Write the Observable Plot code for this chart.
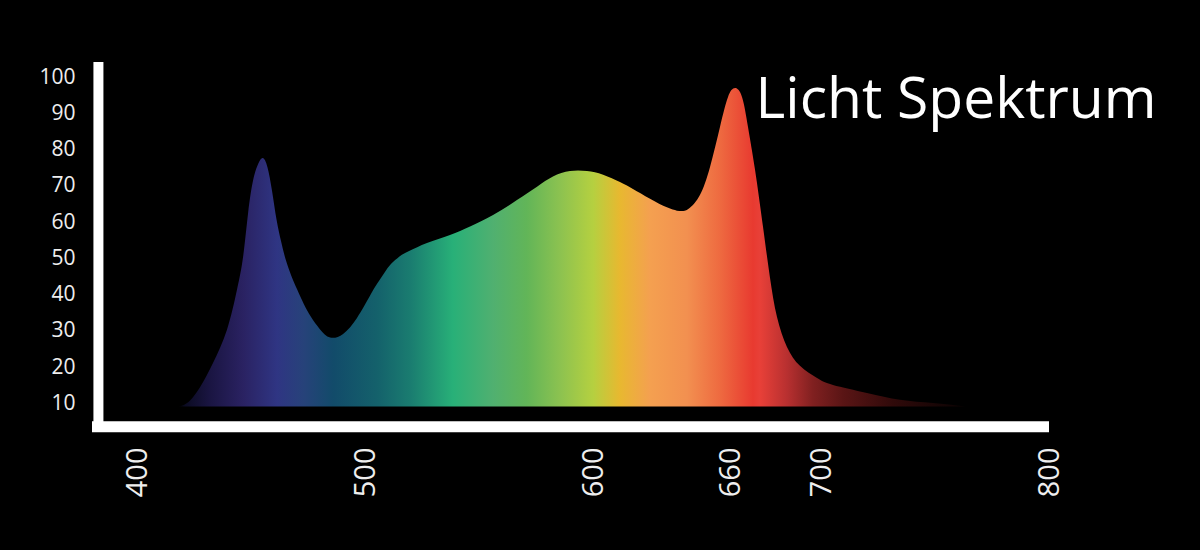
<!DOCTYPE html>
<html>
<head>
<meta charset="utf-8">
<script src="https://cdn.jsdelivr.net/npm/d3@7"></script>
<script src="https://cdn.jsdelivr.net/npm/@observablehq/plot@0.6"></script>
<style>
  html, body { margin: 0; padding: 0; background: #000; }
  #chart { width: 1200px; height: 550px; overflow: hidden; }
</style>
</head>
<body>
<div id="chart"></div>
<script>
// ---- Data ----
const title = "Licht Spektrum";
const wavelength = [417, 421.7, 427.4, 433.1, 439.2, 443.6, 446.3, 448.5, 450.7, 453, 455, 457, 459, 461, 463, 465, 467.5, 470, 473, 476, 480, 484.5, 490.2, 496.3, 502, 505.1, 509, 512.1, 516, 519.6, 527, 537.1, 545.9, 556, 566.5, 575.3, 582.3, 589.8, 597.2, 604.3, 611.7, 617.4, 624.9, 632.3, 636.7, 639.5, 642.4, 646.8, 651.2, 655.6, 659.1, 662.2, 665.3, 667.9, 671, 674.5, 677.5, 680.6, 685, 690.7, 698.2, 705.2, 720.1, 734.6, 749.1, 763.1];
const intensity  = [9, 9.9, 14.3, 21, 30.1, 41.1, 50.2, 62.3, 71.4, 76, 77.5, 75, 68.5, 60.5, 54.5, 49.5, 45, 41.3, 37.2, 33.8, 30.3, 28.0, 29.0, 33.4, 39.5, 42.8, 46.5, 48.8, 50.8, 52.0, 54.1, 56.3, 58.6, 61.8, 65.9, 69.6, 72.4, 73.9, 73.9, 72.9, 70.9, 69.0, 66.3, 63.9, 63.0, 62.9, 63.8, 67.3, 75, 86.1, 94.3, 96.8, 94.3, 86.1, 74.2, 58.5, 44.7, 33.7, 25.4, 20.2, 16.8, 14.9, 12.7, 10.8, 9.9, 9];
const yTicks = [10, 20, 30, 40, 50, 60, 70, 80, 90, 100];
const xTicks = [400, 500, 600, 660, 700, 800];

// spectrum colour stops (wavelength -> colour)
const stopNm    = [418, 420.8, 431.8, 446.3, 461.2, 472.6, 485.8, 505.1, 519.6, 538.4, 556, 570.9, 585.4, 599.9, 611.7, 624.9, 641.1, 655.6, 670.1, 673.2, 685, 696.4, 709.6, 731.5, 753.5, 765];
const stopColor = ["#000000", "#0b0b22", "#1a1542", "#2a2262", "#2f3583", "#27427a", "#124b6a", "#14616b", "#1a7c70", "#28b078", "#50b070", "#62b558", "#8cc250", "#b5d040", "#e8b830", "#f4a050", "#f29050", "#ee6a40", "#e83a30", "#e84038", "#b83030", "#802020", "#5a1515", "#300a0a", "#150505", "#0a0202"];

const data = wavelength.map((w, i) => ({w, v: intensity[i]}));
const baseline = 9;

const plot = Plot.plot({
  width: 1200,
  height: 550,
  marginLeft: 92,
  marginRight: 151,
  marginTop: 62,
  marginBottom: 111,
  style: {background: "#000", color: "#eee", fontFamily: "'Open Sans', sans-serif", overflow: "visible"},
  x: {domain: [380, 800]},
  y: {domain: [0, 104]},
  marks: [
    Plot.areaY(data, {x: "w", y1: baseline, y2: "v", curve: "natural", fill: "url(#spectrum)"}),
    Plot.ruleY([3.5], {x1: 380, x2: 800, stroke: "#fff", strokeWidth: 11}),
    Plot.ruleX([382.6], {y1: 2, y2: 104, stroke: "#fff", strokeWidth: 10}),
    Plot.axisY({ticks: yTicks, tickSize: 0, tickPadding: 17, fontSize: 21, label: null, fill: "#eee"}),
    Plot.axisX({ticks: xTicks, tickSize: 0, tickRotate: -90, tickPadding: 8, fontSize: 29, label: null, fill: "#eee"}),
    Plot.text([title], {text: d => d, frameAnchor: "top-right", textAnchor: "end", lineAnchor: "bottom", dx: 107, dy: 55, fontSize: 57, fill: "#fff"})
  ]
});

// gradient definition mapped through the x scale
const xs = plot.scale("x");
const x0 = xs.apply(stopNm[0]);
const x1 = xs.apply(stopNm[stopNm.length - 1]);
const defs = d3.create("svg:defs");
const grad = defs.append("linearGradient")
  .attr("id", "spectrum")
  .attr("gradientUnits", "userSpaceOnUse")
  .attr("x1", x0).attr("x2", x1).attr("y1", 0).attr("y2", 0);
stopNm.forEach((n, i) => {
  grad.append("stop").attr("offset", (xs.apply(n) - x0) / (x1 - x0)).attr("stop-color", stopColor[i]);
});
plot.insertBefore(defs.node(), plot.firstChild);

document.getElementById("chart").appendChild(plot);
</script>
</body>
</html>
